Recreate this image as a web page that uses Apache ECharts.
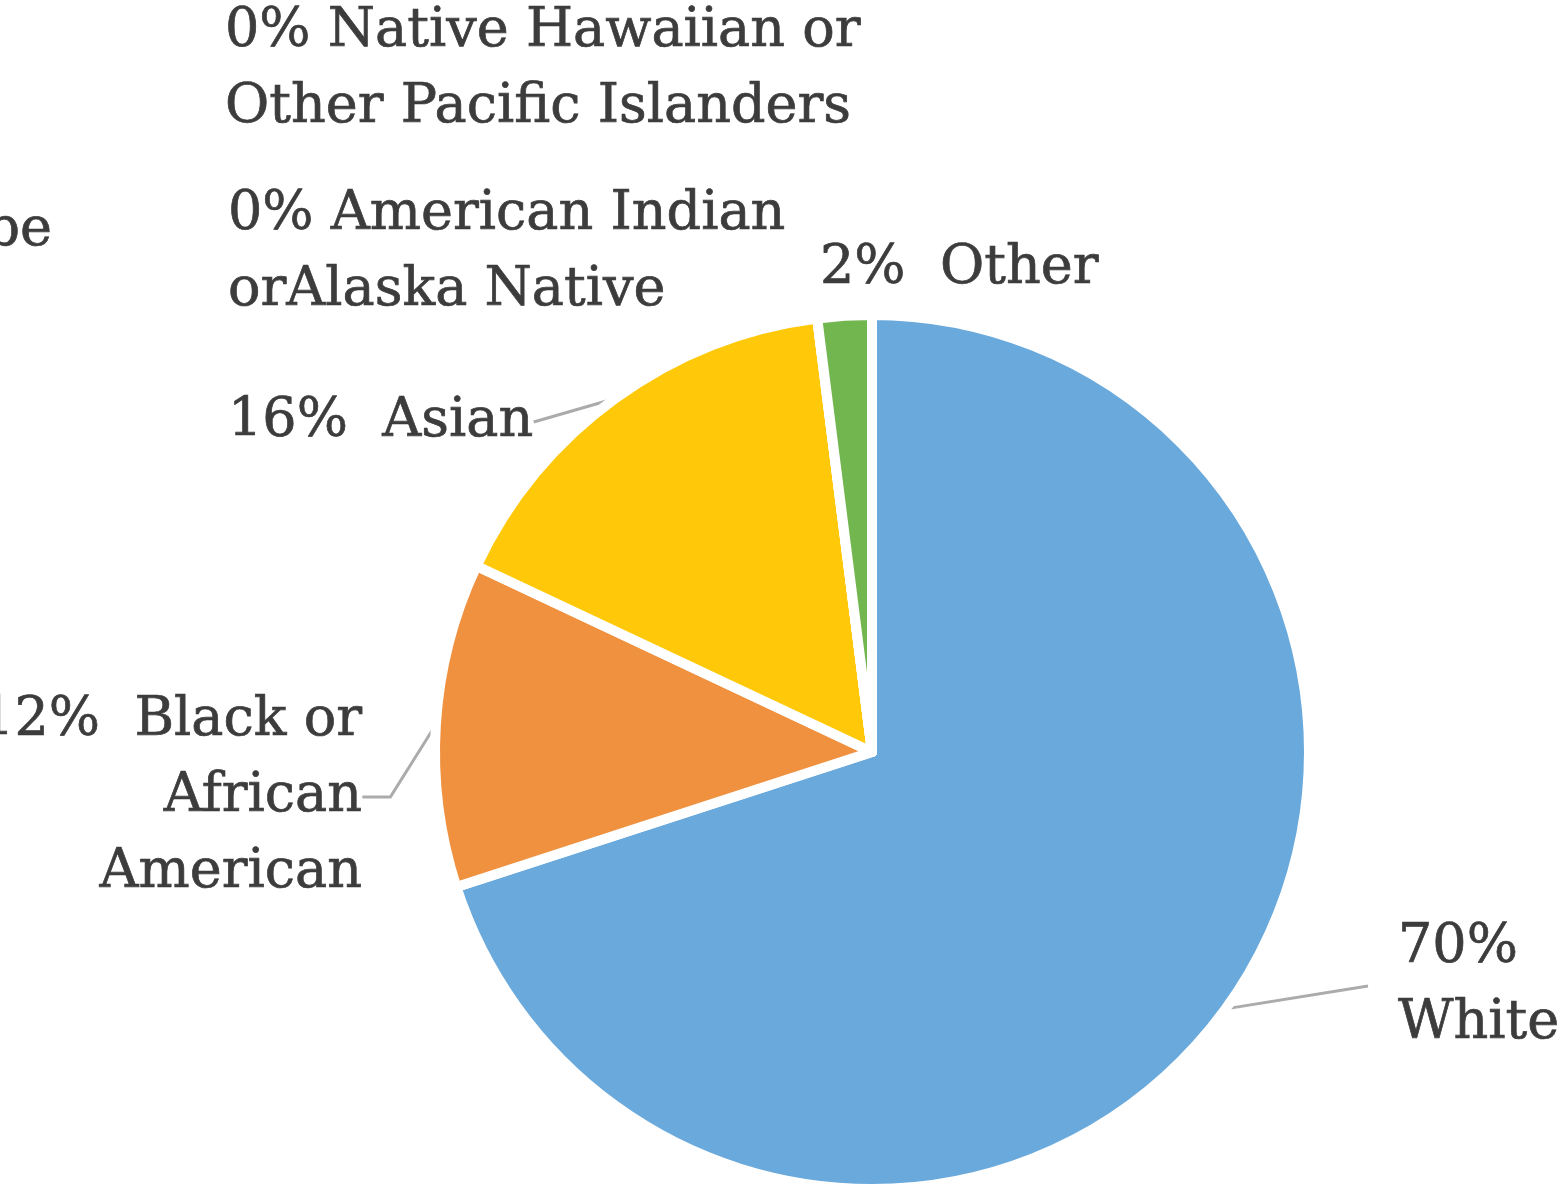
<!DOCTYPE html>
<html>
<head>
<meta charset="utf-8">
<script src="https://cdn.jsdelivr.net/npm/echarts@6/dist/echarts.min.js"></script>
<style>
  html, body { margin: 0; padding: 0; background: #ffffff; }
  #chart { width: 1567px; height: 1186px; }
</style>
</head>
<body>
<div id="chart"></div>
<script>
// Share of each group, in percent
const categories = [
  'White',
  'Black or African American',
  'Asian',
  'Native Hawaiian or Other Pacific Islanders',
  'American Indian orAlaska Native',
  'Other',
  'Prefer not to describe'
];
const shares = [70, 12, 16, 0, 0, 2, 0];

// Text shown after the percentage in each label (with its line breaks)
const labelNames = [
  '\nWhite',
  '  Black or\nAfrican\nAmerican',
  '  Asian',
  ' Native Hawaiian or\nOther Pacific Islanders',
  ' American Indian\norAlaska Native',
  '  Other',
  ' Prefer not to describe'
];

const sliceColors = ['#6aa9dc', '#f0913f', '#ffc90a', '#a5a5a5', '#4472c4', '#72b650', '#255e91'];

// Where each label sits and which slices get a leader line
const labelPlacement = [
  { x: 1368, y: 986, align: 'left',  line: true,  length2: 0,  pad: [0, 0, 0, 30] },
  { x: 362,  y: 797, align: 'right', line: true,  length2: 28, pad: 0 },
  { x: 228,  y: 422, align: 'left',  line: true,  length2: 0,  pad: 0 },
  { x: 225,  y: 70,  align: 'left',  line: false, length2: 0,  pad: 0 },
  { x: 228,  y: 253, align: 'left',  line: false, length2: 0,  pad: 0 },
  { x: 820,  y: 269, align: 'left',  line: false, length2: 0,  pad: 0 },
  { x: 52,   y: 231, align: 'right', line: false, length2: 0,  pad: 0 }
];

const chart = echarts.init(document.getElementById('chart'), null, { renderer: 'canvas' });

const pieData = categories.map((name, i) => ({
  name: name,
  value: shares[i],
  itemStyle: { color: sliceColors[i] },
  label: { padding: labelPlacement[i].pad },
  labelLine: {
    show: labelPlacement[i].line,
    length2: labelPlacement[i].length2
  }
}));

chart.setOption({
  animation: false,
  backgroundColor: '#ffffff',
  series: [{
    type: 'pie',
    center: [872, 752],
    radius: 437,
    startAngle: 90,
    clockwise: true,
    avoidLabelOverlap: false,
    emphasis: { disabled: true },
    itemStyle: { borderColor: '#ffffff', borderWidth: 10 },
    label: {
      show: true,
      position: 'outside',
      fontFamily: 'DejaVu Serif',
      fontSize: 54,
      lineHeight: 76,
      color: '#3c3c3c',
      textBorderColor: '#3c3c3c',
      textBorderWidth: 0.7,
      formatter: (p) => p.value + '%' + labelNames[p.dataIndex]
    },
    labelLine: {
      length: 20,
      length2: 0,
      smooth: false,
      minTurnAngle: 0,
      lineStyle: { color: '#ababab', width: 3 }
    },
    labelLayout: (params) => {
      const p = labelPlacement[params.dataIndex];
      return { x: p.x, y: p.y, align: p.align, verticalAlign: 'middle' };
    },
    data: pieData
  }]
});
</script>
</body>
</html>
